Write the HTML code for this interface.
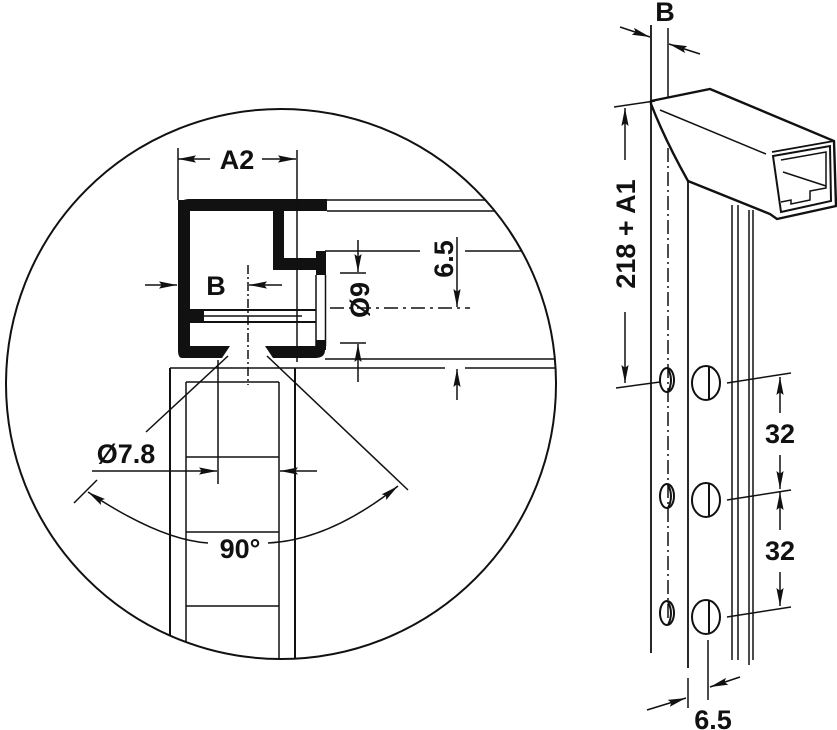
<!DOCTYPE html>
<html><head><meta charset="utf-8"><style>
html,body{margin:0;padding:0;background:#fff}
svg{display:block}
text{font-family:"Liberation Sans",Arial,sans-serif;font-weight:bold;font-size:27px;fill:#111}
</style></head><body>
<svg width="837" height="730" viewBox="0 0 837 730" xmlns="http://www.w3.org/2000/svg">
<defs>
<clipPath id="c"><circle cx="281" cy="384" r="275"/></clipPath>
<marker id="a" viewBox="0 0 20 10" refX="20" refY="5" markerWidth="20" markerHeight="9" orient="auto-start-reverse" markerUnits="userSpaceOnUse"><path d="M0,1 L20,5 L0,9 L3,5 Z" fill="#111"/></marker>
</defs>
<g stroke="#111" fill="none" stroke-width="1.5">
<circle cx="281" cy="384" r="275" stroke-width="2"/>
<g clip-path="url(#c)">
 <line x1="327" y1="200" x2="560" y2="200"/>
 <line x1="327" y1="211" x2="560" y2="211"/>
 <line x1="325" y1="251" x2="420" y2="251"/>
 <line x1="465" y1="251" x2="560" y2="251"/>
 <line x1="325" y1="359" x2="560" y2="359"/>
 <line x1="170" y1="368" x2="445" y2="368"/>
 <line x1="465" y1="368" x2="560" y2="368"/>
 <line x1="170" y1="368" x2="170" y2="700" stroke-width="2"/>
 <line x1="295" y1="368" x2="295" y2="700" stroke-width="2"/>
 <line x1="186" y1="382" x2="186" y2="700"/>
 <line x1="279" y1="382" x2="279" y2="700"/>
 <line x1="186" y1="382" x2="279" y2="382"/>
 <line x1="186" y1="457" x2="279" y2="457"/>
 <line x1="186" y1="532" x2="279" y2="532"/>
 <line x1="186" y1="606" x2="279" y2="606"/>
 <line x1="228" y1="356" x2="146" y2="432"/>
 <line x1="267" y1="356" x2="408" y2="490"/>
 <line x1="97" y1="480" x2="74" y2="503"/>
 <path d="M88,492 Q160,540 208,543" marker-start="url(#a)"/>
 <path d="M268,543 Q330,540 398,486" marker-end="url(#a)"/>
</g>
 <path d="M190,199 L327,199 L327,211 L190,211 Z" fill="#111" stroke="none"/>
 <path d="M178,209 Q178,199 190,199 L190,358 Q178,358 178,346 Z" fill="#111" stroke="none"/>
 <rect x="178" y="200" width="12" height="150" fill="#111" stroke="none"/>
 <path d="M185,346 L230,346 L222,358 L185,358 Z" fill="#111" stroke="none"/>
 <path d="M265,346 L325,346 L325,350 Q325,358 315,358 L273,358 Z" fill="#111" stroke="none"/>
 <path d="M182,358 Q178,358 178,350 L178,346 L190,346 L190,358 Z" fill="#111" stroke="none"/>
 <rect x="273" y="211" width="11" height="59" fill="#111" stroke="none"/>
 <rect x="273" y="258" width="52" height="12" fill="#111" stroke="none"/>
 <rect x="316" y="251" width="10" height="24" fill="#111" stroke="none"/>
 <rect x="316" y="340" width="10" height="10" fill="#111" stroke="none"/>
 <rect x="190" y="310" width="14" height="13" fill="#111" stroke="none"/>
 <line x1="316" y1="275" x2="316" y2="346"/>
 <line x1="325.5" y1="275" x2="325.5" y2="346"/>
 <line x1="190" y1="310" x2="316" y2="310" stroke-width="2"/>
 <line x1="204" y1="316" x2="302" y2="316"/>
 <line x1="190" y1="322" x2="316" y2="322" stroke-width="2"/>
 <line x1="297" y1="150" x2="297" y2="362"/>
 <line x1="178" y1="148" x2="178" y2="200"/>
 <line x1="248" y1="265" x2="248" y2="385" stroke-dasharray="9,3,2,3"/>
 <line x1="330" y1="308" x2="470" y2="308" stroke-dasharray="14,5,3,5"/>
 <line x1="210" y1="159" x2="178" y2="159" marker-end="url(#a)"/>
 <line x1="262" y1="159" x2="296" y2="159" marker-end="url(#a)"/>
 <line x1="145" y1="285" x2="177" y2="285" marker-end="url(#a)"/>
 <line x1="282" y1="285" x2="249" y2="285" marker-end="url(#a)"/>
 <line x1="340" y1="273" x2="366" y2="273"/>
 <line x1="340" y1="343" x2="366" y2="343"/>
 <line x1="358" y1="240" x2="358" y2="272" marker-end="url(#a)"/>
 <line x1="358" y1="382" x2="358" y2="344" marker-end="url(#a)"/>
 <line x1="457" y1="237" x2="457" y2="307" marker-end="url(#a)"/>
 <line x1="457" y1="400" x2="457" y2="369" marker-end="url(#a)"/>
 <line x1="218" y1="360" x2="218" y2="484"/>
 <line x1="92" y1="471" x2="217" y2="471" marker-end="url(#a)"/>
 <line x1="317" y1="471" x2="280" y2="471" marker-end="url(#a)"/>

 <line x1="651" y1="25" x2="651" y2="653" stroke-width="1.8"/>
 <line x1="668" y1="28" x2="668" y2="100"/>
 <line x1="668" y1="100" x2="668" y2="620" stroke-dasharray="14,4,2,4"/>
 <line x1="688" y1="180" x2="688" y2="668" stroke-width="1.8"/>
 <line x1="732" y1="205" x2="732" y2="660"/>
 <line x1="738" y1="205" x2="738" y2="660"/>
 <line x1="749" y1="210" x2="749" y2="665"/>
 <line x1="753" y1="210" x2="753" y2="660"/>
 <path d="M651,101 L710,89 L834,141 L836,206 L777,219 L770,214 L688,181 Q665,140 651,104 Z" fill="#fff" stroke-width="2.4"/>
 <line x1="660" y1="110" x2="766" y2="154"/>
 <path d="M772,152 L834,141" stroke-width="1.8"/>
 <path d="M773,156 L830,146 L831,201 L781,212 Z" stroke-width="2"/>
 <path d="M781,160 L826,152 L826,188 L810,191 L810,200 L791,204 L791,200 L781,202" stroke-width="1.5"/>
 <line x1="783" y1="172" x2="826" y2="186"/>
 <line x1="620" y1="27" x2="650" y2="37" marker-end="url(#a)"/>
 <line x1="700" y1="54" x2="669" y2="44" marker-end="url(#a)"/>
 <g stroke-width="2">
 <ellipse cx="667" cy="380" rx="7" ry="12"/><path d="M668,369 Q674,380 668,392"/>
 <ellipse cx="667" cy="496" rx="7" ry="12"/><path d="M668,485 Q674,496 668,508"/>
 <ellipse cx="667" cy="613" rx="7" ry="12"/><path d="M668,602 Q674,613 668,625"/>
 <ellipse cx="706" cy="383" rx="14" ry="17"/><line x1="709" y1="367" x2="709" y2="399"/>
 <ellipse cx="706" cy="500" rx="14" ry="17"/><line x1="709" y1="484" x2="709" y2="516"/>
 <ellipse cx="706" cy="617" rx="14" ry="17"/><line x1="709" y1="601" x2="709" y2="633"/>
 </g>
 <line x1="727" y1="383" x2="791" y2="373"/>
 <line x1="727" y1="500" x2="791" y2="490"/>
 <line x1="727" y1="617" x2="791" y2="607"/>
 <line x1="780" y1="413" x2="780" y2="377" marker-end="url(#a)"/>
 <line x1="780" y1="455" x2="780" y2="489" marker-end="url(#a)"/>
 <line x1="780" y1="530" x2="780" y2="492" marker-end="url(#a)"/>
 <line x1="780" y1="572" x2="780" y2="606" marker-end="url(#a)"/>
 <line x1="614" y1="107" x2="655" y2="101"/>
 <line x1="616" y1="388" x2="660" y2="382"/>
 <line x1="625" y1="160" x2="625" y2="108" marker-end="url(#a)"/>
 <line x1="625" y1="312" x2="625" y2="383" marker-end="url(#a)"/>
 <line x1="688" y1="678" x2="688" y2="708"/>
 <line x1="708" y1="640" x2="708" y2="700"/>
 <line x1="647" y1="710" x2="686" y2="698" marker-end="url(#a)"/>
 <line x1="740" y1="677" x2="710" y2="687" marker-end="url(#a)"/>
</g>
<g>
 <text x="237" y="169" text-anchor="middle">A2</text>
 <text x="216" y="295" text-anchor="middle">B</text>
 <text transform="translate(369,300) rotate(-90)" text-anchor="middle">Ø9</text>
 <text transform="translate(453,259) rotate(-90)" text-anchor="middle">6.5</text>
 <text x="126" y="463" text-anchor="middle">Ø7.8</text>
 <text x="240" y="558" text-anchor="middle">90°</text>
 <text x="665" y="21" text-anchor="middle">B</text>
 <text transform="translate(635,234) rotate(-90)" text-anchor="middle">218 + A1</text>
 <text x="780" y="443" text-anchor="middle">32</text>
 <text x="780" y="560" text-anchor="middle">32</text>
 <text x="713" y="729" text-anchor="middle">6.5</text>
</g>
</svg>
</body></html>
